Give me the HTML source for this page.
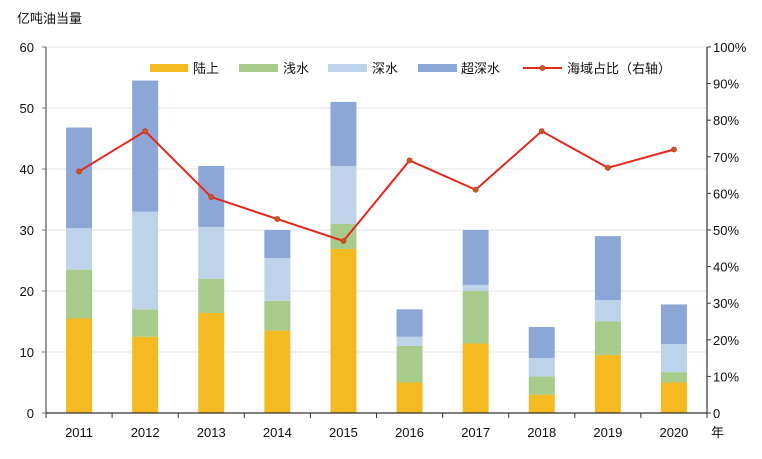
<!DOCTYPE html>
<html><head><meta charset="utf-8">
<style>
body{margin:0;background:#fff;}
svg text{font-family:"Liberation Sans","Noto Sans CJK SC",sans-serif;font-size:13px;fill:#111;}
</style></head>
<body>
<svg width="762" height="454" xmlns="http://www.w3.org/2000/svg">
<text x="17" y="23">亿吨油当量</text>
<g id="grid"></g>
<g id="bars"></g>
<g id="line"></g>
<g id="axes"></g>
<g>
  <rect x="150" y="64" width="38" height="8" fill="#f5b921"/>
  <text x="193" y="73">陆上</text>
  <rect x="239" y="64" width="39" height="8" fill="#a7cb8b"/>
  <text x="283" y="73">浅水</text>
  <rect x="328" y="64" width="39" height="8" fill="#bdd3ea"/>
  <text x="372" y="73">深水</text>
  <rect x="418" y="64" width="39" height="8" fill="#8ca7d5"/>
  <text x="461" y="73">超深水</text>
  <line x1="523" y1="68" x2="562" y2="68" stroke="#e5261c" stroke-width="2"/>
  <circle cx="542.5" cy="68" r="2.5" fill="#b5651d" stroke="#e5261c" stroke-width="0.8"/>
  <text x="567" y="73">海域占比（右轴）</text>
</g>
</svg>
<script>
const years=["2011","2012","2013","2014","2015","2016","2017","2018","2019","2020"];
const land=[15.5,12.5,16.4,13.5,26.9,5,11.4,3,9.5,5];
const shallow=[8,4.5,5.6,4.9,4.1,6,8.6,3,5.5,1.7];
const deep=[6.8,16,8.5,7,9.5,1.5,1,3,3.5,4.6];
const ultra=[16.5,21.5,10,4.6,10.5,4.5,9,5.1,10.5,6.5];
const ratio=[66,77,59,53,47,69,61,77,67,72];
const leftTicks=[0,10,20,30,40,50,60];
const rightTicks=[0,10,20,30,40,50,60,70,80,90,100];
const NS="http://www.w3.org/2000/svg";
const X0=46,X1=707,Y0=413,Y1=47;
const band=(X1-X0)/years.length;
const xC=i=>X0+band*(i+0.5);
const yL=v=>Y0-(v/60)*(Y0-Y1);
const yR=v=>Y0-(v/100)*(Y0-Y1);
function mk(tag,attrs,parent){const e=document.createElementNS(NS,tag);for(const k in attrs)e.setAttribute(k,attrs[k]);parent.appendChild(e);return e;}
const grid=document.getElementById('grid'),bars=document.getElementById('bars'),line=document.getElementById('line'),axes=document.getElementById('axes');
leftTicks.forEach(t=>{
  if(t>0){const g=mk('line',{x1:X0,x2:X1,y1:yL(t),y2:yL(t),stroke:'#e6e6e6','stroke-width':1},grid);
  
  }
  const tk=mk('line',{x1:X0-4,x2:X0,y1:yL(t),y2:yL(t),stroke:'#777','stroke-width':1},axes);
  
  
  const tx=mk('text',{x:34,y:yL(t)+5,'text-anchor':'end'},axes);tx.textContent=t;
  
  
});
rightTicks.forEach(t=>{
  const tk=mk('line',{x1:X1,x2:X1+4,y1:yR(t),y2:yR(t),stroke:'#333','stroke-width':1},axes);
  
  
  const tx=mk('text',{x:713,y:yR(t)+5},axes);tx.textContent=t===0?'0':t+'%';
  
  
});
const series=[[land,'#f5b921','land'],[shallow,'#a7cb8b','shallow'],[deep,'#bdd3ea','deep'],[ultra,'#8ca7d5','ultra']];
const bw=26;
years.forEach((y,i)=>{
  let acc=0;
  series.forEach(([arr,c,n])=>{
    const top=yL(acc+arr[i]),bot=yL(acc);
    const r=mk('rect',{x:xC(i)-bw/2,y:top,width:bw,height:bot-top,fill:c},bars);
    
    
    acc+=arr[i];
  });
  const tx=mk('text',{x:xC(i),y:437,'text-anchor':'middle'},axes);tx.textContent=y;
  
  
});
for(let i=0;i<=years.length;i++){
  const tk=mk('line',{x1:X0+band*i,x2:X0+band*i,y1:Y0,y2:Y0+5,stroke:'#333','stroke-width':1},axes);
  
  
}
const la=mk('line',{x1:X0,x2:X0,y1:Y1,y2:Y0,stroke:'#777','stroke-width':1.5},axes);


const ra=mk('line',{x1:X1,x2:X1,y1:Y1,y2:Y0,stroke:'#333','stroke-width':1.2},axes);


const xa=mk('line',{x1:X0,x2:X1,y1:Y0,y2:Y0,stroke:'#333','stroke-width':1.2},axes);


const nian=mk('text',{x:711,y:437},axes);nian.textContent='年';


const pts=ratio.map((v,i)=>xC(i)+','+yR(v)).join(' ');
const pl=mk('polyline',{points:pts,fill:'none',stroke:'#e5261c','stroke-width':2},line);


ratio.forEach((v,i)=>{
  const c=mk('circle',{cx:xC(i),cy:yR(v),r:2.5,fill:'#b5651d',stroke:'#e5261c','stroke-width':0.8},line);
  
  
});
</script>
</body></html>
